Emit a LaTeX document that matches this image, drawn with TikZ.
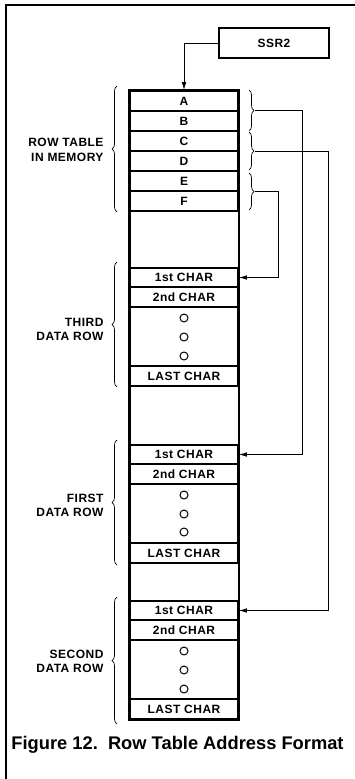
\documentclass[tikz,border=0pt]{standalone}
\usepackage{fontspec}
\setmainfont{Liberation Sans}
\newfontfamily\labelfont[LetterSpace=4]{Liberation Sans}
\usetikzlibrary{arrows.meta, positioning, decorations.pathreplacing}

\tikzset{
  cell/.style={draw, line width=1.6pt, minimum width=108pt, inner sep=0pt,
    font=\labelfont\bfseries\fontsize{12}{14}\selectfont},
  ring/.style={draw, circle, line width=1pt, minimum size=8pt, inner sep=0pt},
  lbl/.style={anchor=east, align=right, font=\labelfont\bfseries\fontsize{12}{14.5}\selectfont},
  conn/.style={line width=0.8pt, -{Latex[length=8pt,width=4.5pt]}},
  lbrace/.style={line width=0.7pt, decorate, decoration={brace, amplitude=5pt}}
}

\begin{document}
\begin{tikzpicture}[x=1pt, y=-1pt]
    \useasboundingbox (0,0) rectangle (355,779);

    % Frame
    \draw[line width=1.1pt] (6,779) -- (6,5) -- (355,5);

    % Pointer register
    \node[draw, line width=2pt, minimum width=110pt, minimum height=30pt,
      font=\labelfont\bfseries\fontsize{12}{14}\selectfont] (ssr) at (274,43) {SSR2};

    % Row table
    \node[cell, minimum height=20pt] (rowA) at (184,101) {A};
    \node[cell, minimum height=20pt] (rowB) at (184,121) {B};
    \node[cell, minimum height=20pt] (rowC) at (184,141) {C};
    \node[cell, minimum height=20pt] (rowD) at (184,161) {D};
    \node[cell, minimum height=20pt] (rowE) at (184,181) {E};
    \node[cell, minimum height=20pt] (rowF) at (184,201) {F};

    % Third data row
    \node[cell, minimum height=19pt] (t1) at (184,277.5) {1st CHAR};
    \node[cell, minimum height=20pt] (t2) at (184,297) {2nd CHAR};
    \node[cell, minimum height=59pt] (tdots) at (184,336.5) {};
    \node[cell, minimum height=20pt] (tlast) at (184,376) {LAST CHAR};
    \node[ring] (td1) at (184,318) {};
    \node[ring] (td2) at (184,337) {};
    \node[ring] (td3) at (184,356) {};

    % First data row
    \node[cell, minimum height=19pt] (f1) at (184,454.5) {1st CHAR};
    \node[cell, minimum height=20pt] (f2) at (184,474) {2nd CHAR};
    \node[cell, minimum height=59pt] (fdots) at (184,513.5) {};
    \node[cell, minimum height=20pt] (flast) at (184,553) {LAST CHAR};
    \node[ring] (fd1) at (184,495) {};
    \node[ring] (fd2) at (184,514) {};
    \node[ring] (fd3) at (184,532) {};

    % Second data row
    \node[cell, minimum height=19pt] (s1) at (184,610.5) {1st CHAR};
    \node[cell, minimum height=20pt] (s2) at (184,630) {2nd CHAR};
    \node[cell, minimum height=59pt] (sdots) at (184,669.5) {};
    \node[cell, minimum height=20pt] (slast) at (184,709) {LAST CHAR};
    \node[ring] (sd1) at (184,651) {};
    \node[ring] (sd2) at (184,670) {};
    \node[ring] (sd3) at (184,689) {};

    % Memory column outline
    \draw[line width=2.6pt] (rowA.north west) rectangle (slast.south east);

    % Left braces and labels
    \draw[lbrace] (117,212) -- (117,86);
    \draw[lbrace] (117,387) -- (117,262);
    \draw[lbrace] (117,565) -- (117,440);
    \draw[lbrace] (117,724) -- (117,597);
    \node[lbl] (lrt) at (107,150) {ROW TABLE\\IN MEMORY};
    \node[lbl] (lthird) at (107,329.5) {THIRD\\DATA ROW};
    \node[lbl] (lfirst) at (107,505.5) {FIRST\\DATA ROW};
    \node[lbl] (lsecond) at (107,661.5) {SECOND\\DATA ROW};

    % Right braces
    \draw[lbrace] (249,90) -- (249,131);
    \draw[lbrace] (249,132) -- (249,170);
    \draw[lbrace] (249,173) -- (249,210);
    \coordinate (tipAB) at (255,110.5);
    \coordinate (tipCD) at (255,151);
    \coordinate (tipEF) at (255,191.5);

    % Connections
    \draw[conn] (ssr.west) -| (rowA.north);
    \draw[conn] (tipAB) -- (302,110.5) |- (f1.east);
    \draw[conn] (tipCD) -- (328,151) |- (s1.east);
    \draw[conn] (tipEF) -- (278,191.5) |- (t1.east);

    % Caption
    \node[anchor=base, font=\bfseries\fontsize{18.3}{21}\selectfont] (cap) at (177.5,749)
      {Figure 12.\ \ Row Table Address Format};
\end{tikzpicture}
\end{document}
